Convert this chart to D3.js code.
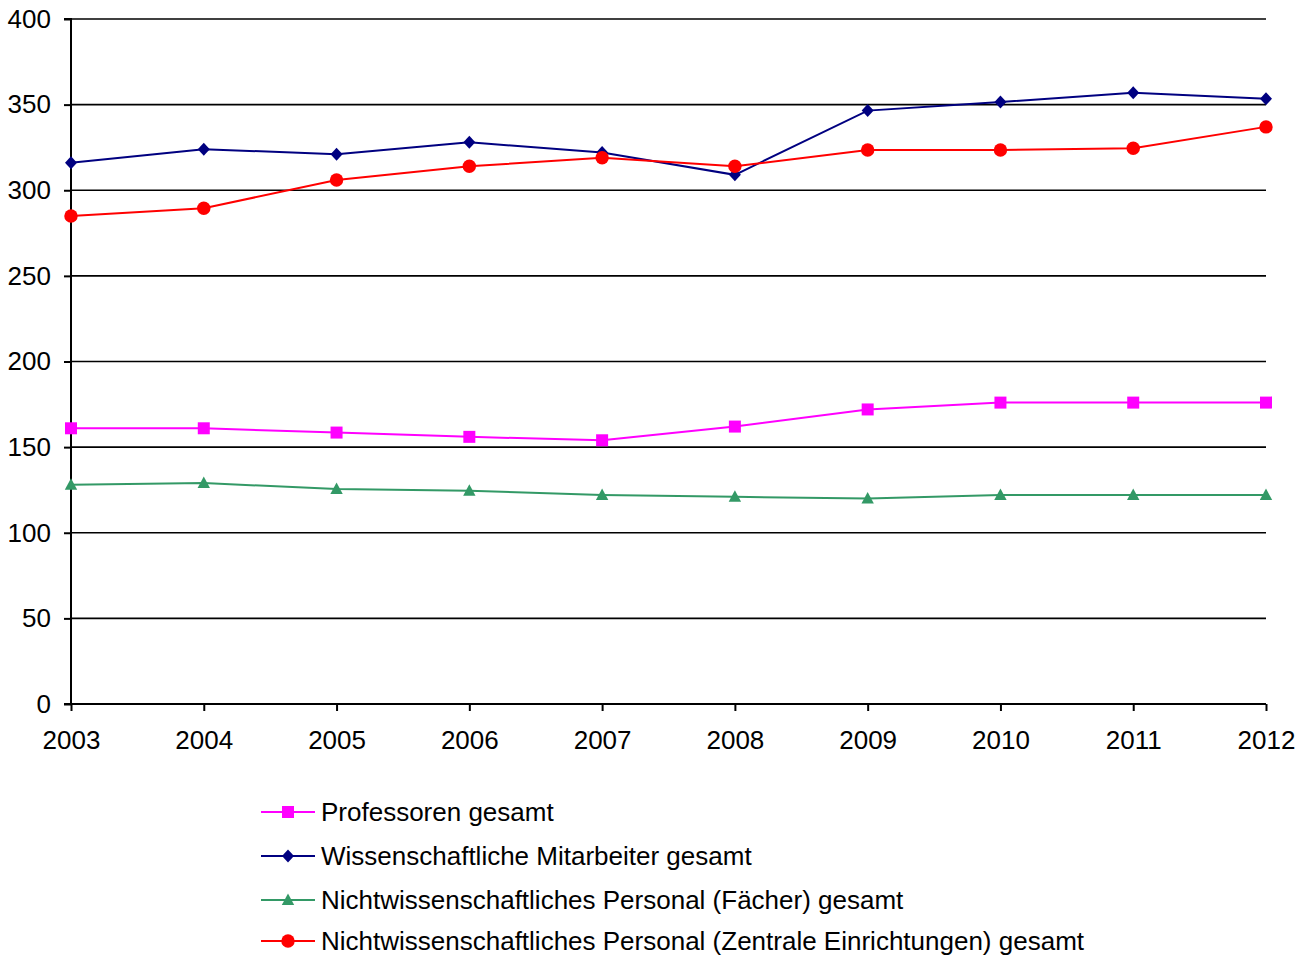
<!DOCTYPE html>
<html><head><meta charset="utf-8">
<script src="https://cdn.jsdelivr.net/npm/d3@7"></script>
<style>
html,body{margin:0;padding:0;background:#fff;}
text{font-family:"Liberation Sans",Arial,sans-serif;fill:#000;}
</style></head>
<body>
<svg id="chart" width="1312" height="958"></svg>
<script>
const years = ["2003","2004","2005","2006","2007","2008","2009","2010","2011","2012"];
const seriesNames = [
  "Professoren gesamt",
  "Wissenschaftliche Mitarbeiter gesamt",
  "Nichtwissenschaftliches Personal (Fächer) gesamt",
  "Nichtwissenschaftliches Personal (Zentrale Einrichtungen) gesamt"
];
const professoren = [161,161,158.5,156,154,162,172,176,176,176];
const wissMitarbeiter = [316,324,321,328,322,309,346.5,351.5,357,353.5];
const nichtwissFaecher = [128,129,125.5,124.5,122,121,120,122,122,122];
const nichtwissZentral = [285,289.5,306,314,319,314,323.5,323.5,324.5,337];
const yTicks = [0,50,100,150,200,250,300,350,400];

(function(){
const seriesValues = [professoren, wissMitarbeiter, nichtwissFaecher, nichtwissZentral];
const colors = ["#FF00FF","#000080","#339966","#FF0000"];
const shapes = ["square","diamond","triangle","circle"];
const FS = "26px";

const svg = d3.select("#chart");
const pLeft = 71, pRight = 1266, pTop = 19, pBottom = 704;

const x = d3.scalePoint().domain(years).range([pLeft, pRight]);
const y = d3.scaleLinear().domain([0,400]).range([pBottom, pTop]);

// gridlines
svg.append("g").selectAll("line").data(yTicks.filter(d=>d>0)).join("line")
  .attr("x1", pLeft).attr("x2", pRight)
  .attr("y1", d=>y(d)).attr("y2", d=>y(d))
  .attr("stroke","#000").attr("stroke-width",1.6);

// y axis
const yAxis = d3.axisLeft(y).tickValues(yTicks).tickSize(7).tickPadding(13).tickFormat(d3.format("d"));
const gy = svg.append("g").attr("transform",`translate(${pLeft},0)`).call(yAxis);
gy.select(".domain").attr("stroke","#000").attr("stroke-width",2).attr("d",`M-7,${pTop}H0V${pBottom}H-7`);
gy.selectAll(".tick line").attr("stroke","#000").attr("stroke-width",2);
gy.selectAll(".tick text").style("font-size",FS).style("font-family",'"Liberation Sans",Arial,sans-serif').attr("fill","#000");

// x axis
const xAxis = d3.axisBottom(x).tickSize(7).tickPadding(20);
const gx = svg.append("g").attr("transform",`translate(0,${pBottom})`).call(xAxis);
gx.select(".domain").attr("stroke","#000").attr("stroke-width",2).attr("d",`M${pLeft},0H${pRight}`);
gx.selectAll(".tick line").attr("stroke","#000").attr("stroke-width",2);
gx.selectAll(".tick text").style("font-size",FS).style("font-family",'"Liberation Sans",Arial,sans-serif').attr("fill","#000");

function symbolPath(shape){
  if(shape==="square") return d3.symbol().type(d3.symbolSquare).size(144)();
  if(shape==="diamond") return "M0,-6.5L6,0L0,6.5L-6,0Z";
  if(shape==="triangle") return "M0,-6.5L6.2,5L-6.2,5Z";
  return d3.symbol().type(d3.symbolCircle).size(142)();
}

const line = d3.line().x((d,i)=>x(years[i])).y(d=>y(d));

seriesValues.forEach((vals, si)=>{
  const g = svg.append("g");
  g.append("path").datum(vals).attr("d", line)
    .attr("fill","none").attr("stroke",colors[si]).attr("stroke-width",2);
  g.selectAll("path.m").data(vals).join("path").attr("class","m")
    .attr("d", symbolPath(shapes[si]))
    .attr("transform",(d,i)=>`translate(${x(years[i])},${y(d)})`)
    .attr("fill",colors[si]);
});

// legend
const legendY = [812, 856, 900, 941];
const lg = svg.append("g");
seriesNames.forEach((name, si)=>{
  const ly = legendY[si];
  lg.append("line").attr("x1",261).attr("x2",315).attr("y1",ly).attr("y2",ly)
    .attr("stroke",colors[si]).attr("stroke-width",2);
  lg.append("path").attr("d", symbolPath(shapes[si])).attr("transform",`translate(288,${ly})`).attr("fill",colors[si]);
  lg.append("text").attr("x",321).attr("y",ly).attr("dy","0.35em")
    .style("font-size",FS).text(name);
});
})();
</script>
</body></html>
